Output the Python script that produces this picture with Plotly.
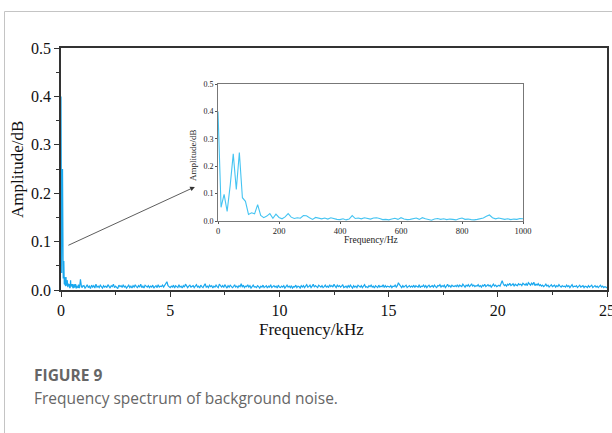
import plotly.graph_objects as go

# Inset spectrum: 0-1000 Hz, 10 Hz step
inset_hz = list(range(0, 1001, 10))
inset_amp = [
    0.40, 0.05, 0.097, 0.035, 0.13, 0.245, 0.115, 0.25, 0.085, 0.072,
    0.024, 0.03, 0.026, 0.06, 0.02, 0.012, 0.018, 0.027, 0.01, 0.025,
    0.013, 0.008, 0.015, 0.027, 0.014, 0.009, 0.012, 0.01, 0.02, 0.019,
    0.012, 0.006, 0.013, 0.01, 0.008, 0.011, 0.007, 0.012, 0.008, 0.006,
    0.005, 0.008, 0.004, 0.007, 0.02, 0.009, 0.011, 0.008, 0.012, 0.01,
    0.007, 0.011, 0.012, 0.009, 0.005, 0.006, 0.004, 0.007, 0.01, 0.006,
    0.012, 0.007, 0.005, 0.006, 0.009, 0.011, 0.006, 0.012, 0.008, 0.005,
    0.003, 0.007, 0.009, 0.006, 0.008, 0.005, 0.007, 0.006, 0.004, 0.008,
    0.011, 0.006, 0.007, 0.005, 0.004, 0.006, 0.008, 0.011, 0.017, 0.022,
    0.012, 0.008, 0.011, 0.009, 0.006, 0.008, 0.005, 0.007, 0.006, 0.009,
    0.008,
]

# Main spectrum beyond 1 kHz: 1.05-25.0 kHz, 0.05 kHz step, amplitude in 1/1000 dB
main_khz_tail = [round(1.0 + 0.05 * i, 2) for i in range(1, 481)]
main_amp_tail_milli = [
    9,4,7,11,5,8,3,10,6,9,4,12,6,8,5,10,7,4,9,6,
    8,5,11,6,4,9,7,12,5,8,6,3,10,7,9,5,11,6,8,4,
    7,10,5,8,4,9,6,11,7,5,9,6,12,5,8,4,10,7,6,9,
    5,8,6,10,4,7,9,5,11,6,8,7,10,6,9,14,17,9,7,5,
    8,6,10,4,9,7,5,11,6,8,4,9,6,12,7,5,8,10,6,7,
    9,5,7,11,6,8,4,10,7,5,9,13,6,8,5,10,7,9,4,8,
    6,10,7,5,12,8,6,9,5,11,7,4,9,6,10,8,5,7,11,6,
    8,5,9,7,13,6,10,5,8,7,11,6,9,4,8,10,6,7,5,9,
    7,4,8,6,10,5,7,9,4,8,6,11,5,7,9,6,8,4,10,6,
    5,8,6,9,4,7,10,6,8,5,9,4,7,6,10,5,8,7,4,9,
    6,9,5,8,11,6,7,10,5,8,12,6,9,7,5,10,8,6,9,5,
    7,10,6,8,5,11,7,9,6,12,8,5,10,7,9,6,8,11,5,7,
    8,5,9,6,10,7,4,9,6,8,5,10,7,6,9,5,8,11,6,7,
    5,9,7,10,6,8,4,9,7,5,10,6,8,7,11,5,9,6,8,7,
    6,9,5,8,7,10,6,9,15,11,7,5,9,6,8,10,5,7,9,6,
    8,6,10,5,9,7,6,11,5,8,7,10,6,9,5,8,10,6,7,9,
    6,10,7,5,9,8,11,6,9,7,10,5,8,12,7,9,6,10,8,7,
    9,7,11,6,10,8,7,12,9,6,10,8,11,7,9,13,8,10,7,9,
    8,11,7,9,6,10,8,12,7,9,11,8,10,6,9,12,8,10,7,9,
    10,8,12,19,13,9,11,8,12,10,14,9,11,13,8,12,10,9,13,11,
    12,9,14,11,10,13,9,15,12,10,14,11,16,9,12,10,13,9,11,8,
    10,7,9,12,8,10,6,9,11,7,8,10,6,9,7,11,8,6,9,7,
    8,6,10,7,9,5,8,11,6,8,7,9,5,8,10,6,7,9,5,8,
    7,5,9,6,8,10,5,7,9,6,8,5,7,10,6,8,5,7,6,4,
]

main_khz = [h / 1000 for h in inset_hz] + main_khz_tail
main_amp = inset_amp + [v / 1000 for v in main_amp_tail_milli]

main_xticks = [0, 5, 10, 15, 20, 25]
main_yticks = [0.0, 0.1, 0.2, 0.3, 0.4, 0.5]
inset_xticks = [0, 200, 400, 600, 800, 1000]

W, H = 612, 433
L, R, T, B = 61, 5, 48, 143
pw, ph = W - L - R, H - T - B

def px(x):
    return (x - L) / pw

def py(y):
    return (H - B - y) / ph

serif = "Liberation Serif"

fig = go.Figure()
fig.add_trace(go.Scatter(x=main_khz, y=main_amp, mode="lines",
                         line=dict(color="#1aa8ee", width=1.2),
                         xaxis="x", yaxis="y", showlegend=False, cliponaxis=False))
fig.add_trace(go.Scatter(x=inset_hz, y=inset_amp, mode="lines",
                         line=dict(color="#45c4f2", width=1.1),
                         xaxis="x2", yaxis="y2", showlegend=False))

fig.update_layout(
    width=W, height=H,
    margin=dict(l=L, r=R, t=T, b=B, autoexpand=False),
    paper_bgcolor="white", plot_bgcolor="white",
    xaxis=dict(range=[0, 25], tickvals=main_xticks, ticks="outside", ticklen=5,
               tickcolor="#333", showline=True, linecolor="#333", linewidth=1.6,
               mirror=True, showgrid=False, zeroline=False, automargin=False,
               ticklabeloverflow="allow", layer="below traces",
               tickfont=dict(family=serif, size=16, color="#111"),
               minor=dict(dtick=2.5, ticks="outside", ticklen=3, tickcolor="#333")),
    yaxis=dict(range=[0, 0.5], tickvals=main_yticks, tickformat=".1f",
               ticks="outside", ticklen=5, tickcolor="#333", showline=True,
               linecolor="#333", linewidth=1.6, mirror=True, showgrid=False,
               zeroline=False, automargin=False, layer="below traces",
               tickfont=dict(family=serif, size=16, color="#111"),
               minor=dict(dtick=0.05, ticks="outside", ticklen=3, tickcolor="#333")),
    xaxis2=dict(domain=[px(218), px(523)], anchor="y2", range=[0, 1000],
                tickvals=inset_xticks, ticks="outside", ticklen=2, tickcolor="#555",
                showline=True, linecolor="#777", linewidth=1, mirror=True,
                showgrid=False, zeroline=False, automargin=False,
                tickfont=dict(family=serif, size=8.5, color="#222")),
    yaxis2=dict(domain=[py(221), py(84)], anchor="x2", range=[0, 0.5],
                tickvals=main_yticks, tickformat=".1f", ticks="outside", ticklen=2,
                tickcolor="#555", showline=True, linecolor="#777", linewidth=1,
                mirror=True, showgrid=False, zeroline=False, automargin=False,
                tickfont=dict(family=serif, size=8, color="#222")),
)

ann = []
ann.append(dict(x=px(17), y=py(170), xref="paper", yref="paper", text="Amplitude/dB",
                textangle=-90, showarrow=False, xanchor="center", yanchor="middle",
                font=dict(family=serif, size=17, color="#111")))
ann.append(dict(x=px(311), y=py(329), xref="paper", yref="paper", text="Frequency/kHz",
                showarrow=False, xanchor="center", yanchor="middle",
                font=dict(family=serif, size=17, color="#111")))
ann.append(dict(x=px(193), y=py(155), xref="paper", yref="paper", text="Amplitude/dB",
                textangle=-90, showarrow=False, xanchor="center", yanchor="middle",
                font=dict(family=serif, size=9, color="#222")))
ann.append(dict(x=px(371), y=py(240), xref="paper", yref="paper", text="Frequency/Hz",
                showarrow=False, xanchor="center", yanchor="middle",
                font=dict(family=serif, size=9.5, color="#222")))
ann.append(dict(x=6.13, y=0.213, ax=0.27, ay=0.091, xref="x", yref="y",
                axref="x", ayref="y", text="", showarrow=True, arrowhead=2,
                arrowsize=1.2, arrowwidth=0.8, arrowcolor="#333"))
ann.append(dict(x=px(32), y=py(375), xref="paper", yref="paper", text="<b>FIGURE 9</b>",
                showarrow=False, xanchor="left", yanchor="middle",
                font=dict(family="Open Sans", size=15.5, color="#666")))
ann.append(dict(x=px(32), y=py(398), xref="paper", yref="paper",
                text="Frequency spectrum of background noise.",
                showarrow=False, xanchor="left", yanchor="middle",
                font=dict(family="Open Sans", size=15.5, color="#666")))
fig.update_layout(annotations=ann)

fig.add_shape(type="line", xref="paper", yref="paper", x0=px(4.5), x1=px(4.5),
              y0=py(11.5), y1=py(440), line=dict(color="#c4c4c4", width=1))
fig.add_shape(type="line", xref="paper", yref="paper", x0=px(4.5), x1=px(620),
              y0=py(11.5), y1=py(11.5), line=dict(color="#c4c4c4", width=1))

fig.write_html("out.html")
